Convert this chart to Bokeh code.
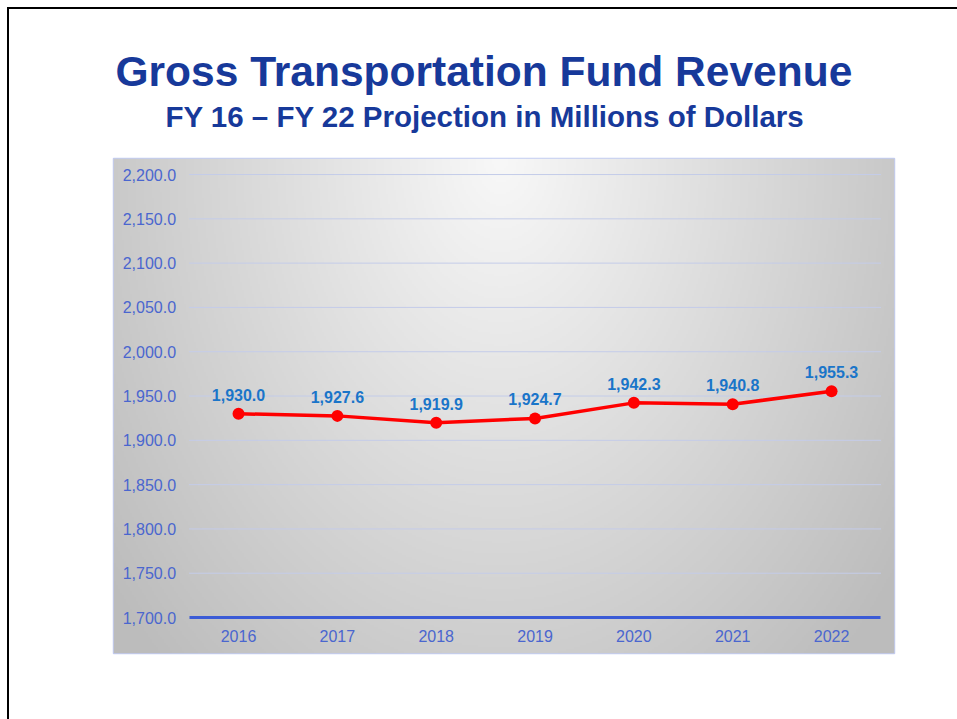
import numpy as np
from bokeh.plotting import figure
from bokeh.models import (Range1d, LinearAxis, FixedTicker, ColumnDataSource, LabelSet,
                          Title, NumeralTickFormatter)
from bokeh.core.properties import value
from bokeh.embed import file_html
from bokeh.resources import INLINE

# ---- data ----
years = ["2016", "2017", "2018", "2019", "2020", "2021", "2022"]
revenue = [1930.0, 1927.6, 1919.9, 1924.7, 1942.3, 1940.8, 1955.3]
y_ticks = [1700, 1750, 1800, 1850, 1900, 1950, 2000, 2050, 2100, 2150, 2200]
title_text = "Gross Transportation Fund Revenue"
subtitle_text = "FY 16 \u2013 FY 22 Projection in Millions of Dollars"

x_idx = list(range(len(years)))
labels = [f"{v:,.1f}" for v in revenue]

FONT = "Liberation Sans"
x_start, x_end = -1.265, len(years) - 1 + 0.637
y_start, y_end = 1659.4, 2218.1

slide_border = ("linear-gradient(#000,#000) 7px 7px/2px 100% no-repeat, "
                "linear-gradient(#000,#000) 7px 7px/100% 2px no-repeat, #fff")

p = figure(width=957, height=719, output_backend="svg", toolbar_location=None,
           x_range=Range1d(x_start, x_end), y_range=Range1d(y_start, y_end),
           x_axis_location=None, y_axis_location=None,
           min_border_left=113, min_border_right=63, min_border_top=158, min_border_bottom=66,
           background_fill_color="#dcdcdc", border_fill_color=None,
           outline_line_color="#c3cdf3", outline_line_width=1.5,
           styles={"background": slide_border})
p.grid.visible = False

# background gradient of the chart area
fw, fh = 781, 495
W, H = 390, 248
gx = np.linspace(0, fw, W)
gy = (1 - np.linspace(0, 1, H)) * fh
dx = (gx[None, :] - 387) / 400.0
dy = gy[:, None] / 560.0
d = np.sqrt(dx ** 2 + dy ** 2)
g = np.clip(248 - 48 * d, 188, 250).astype(np.uint32)
img = (np.uint32(255) << 24) | (g << 16) | (g << 8) | g
p.image_rgba(image=[img], x=x_start, y=y_start, dw=x_end - x_start, dh=y_end - y_start,
             level="image")

# gridlines limited to category span
half = 0.5
p.segment(x0=[-half] * (len(y_ticks) - 1), x1=[len(years) - 1 + half] * (len(y_ticks) - 1),
          y0=y_ticks[1:], y1=y_ticks[1:], line_color="#c4cce9", line_width=1)

# axes
xaxis = LinearAxis(fixed_location=y_ticks[0], ticker=FixedTicker(ticks=x_idx),
                   major_label_overrides={i: y for i, y in zip(x_idx, years)},
                   bounds=(-half, len(years) - 1 + half),
                   axis_line_color="#3b5bd6", axis_line_width=3,
                   major_tick_line_color=None, minor_tick_line_color=None,
                   major_tick_out=0, major_tick_in=0, minor_tick_out=0,
                   major_label_standoff=12,
                   major_label_text_color="#4a66cf", major_label_text_font=FONT,
                   major_label_text_font_size="16px")
p.add_layout(xaxis, "below")

yaxis = LinearAxis(fixed_location=-half, ticker=FixedTicker(ticks=y_ticks),
                   formatter=NumeralTickFormatter(format="0,0.0"),
                   axis_line_color=None, major_tick_line_color=None, minor_tick_line_color=None,
                   major_tick_out=0, major_tick_in=0, minor_tick_out=0,
                   major_label_standoff=13,
                   major_label_text_color="#4a66cf", major_label_text_font=FONT,
                   major_label_text_font_size="16px")
p.add_layout(yaxis, "left")

# series
src = ColumnDataSource(dict(x=x_idx, y=revenue, label=labels))
p.line("x", "y", source=src, line_color="#ff0000", line_width=3.5)
p.scatter("x", "y", source=src, size=12, fill_color="#ff0000", line_color=None)
p.add_layout(LabelSet(x="x", y="y", text="label", source=src, y_offset=19,
                      text_align="center", text_baseline="middle",
                      text_font=value(FONT), text_font_style="bold",
                      text_font_size="16px", text_color="#1a75c9"))

# titles
p.add_layout(Title(text=subtitle_text, align="left", offset=52,
                   text_font=FONT, text_font_style="bold", text_font_size="29.5px",
                   text_color="#17399a", standoff=52), "above")
p.add_layout(Title(text=title_text, align="left", offset=2,
                   text_font=FONT, text_font_style="bold", text_font_size="42.5px",
                   text_color="#17399a", standoff=-46), "above")

open("out.html", "w").write(file_html(p, INLINE))
